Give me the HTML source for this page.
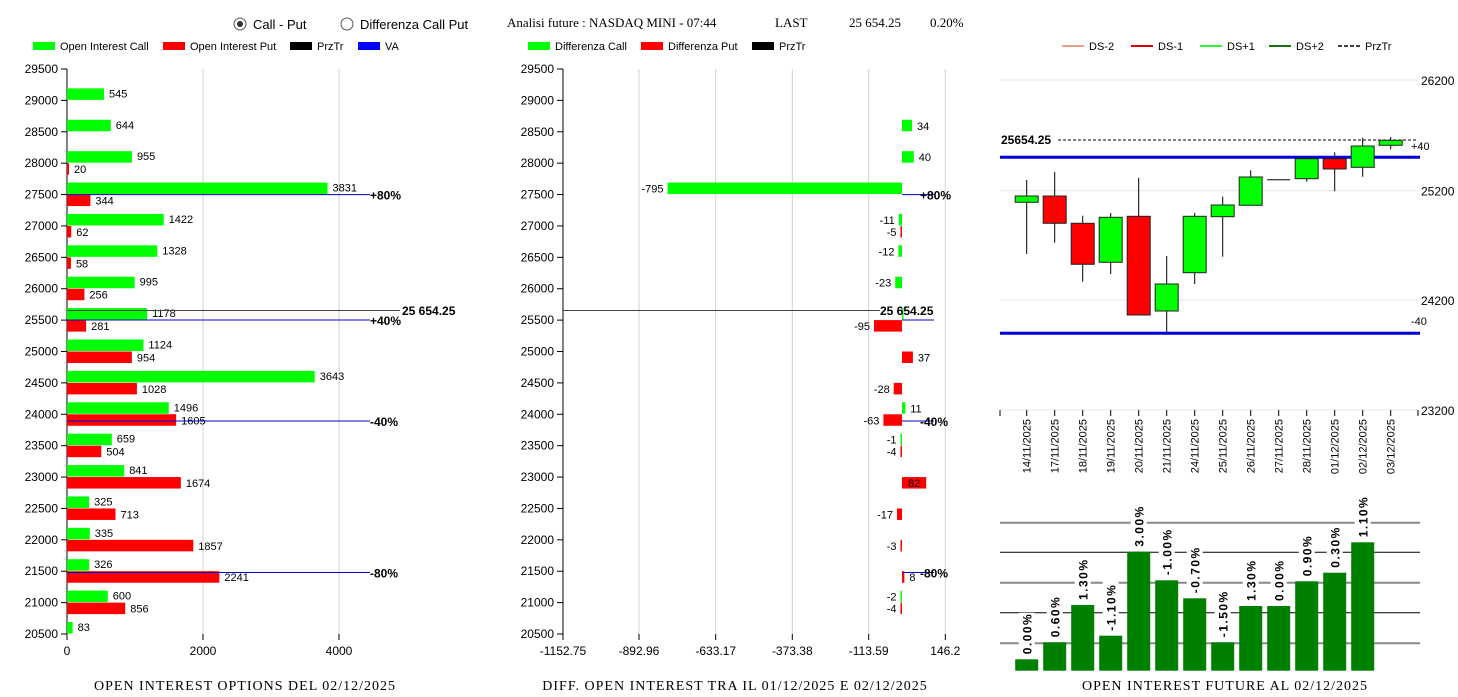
<!DOCTYPE html>
<html><head><meta charset="utf-8">
<style>
body{margin:0;background:#fff;width:1458px;height:697px;overflow:hidden}
svg{display:block}
text{font-family:"Liberation Sans",sans-serif;font-size:11px;fill:#000}
.s{font-family:"Liberation Serif",serif;font-size:13px}
.t{font-family:"Liberation Serif",serif;font-size:14px;letter-spacing:1px}
.b{font-weight:bold;font-size:12px}
</style></head><body>
<svg id="c" width="1458" height="697" xmlns="http://www.w3.org/2000/svg">
<circle cx="240" cy="24" r="6" fill="#fff" stroke="#555"/><circle cx="240" cy="24" r="3" fill="#333"/>
<text x="253" y="29" style="font-size:13px">Call - Put</text>
<circle cx="347" cy="24" r="6" fill="#fff" stroke="#555"/>
<text x="360" y="29" style="font-size:13px">Differenza Call Put</text>
<text class="s" x="507" y="27">Analisi future : NASDAQ MINI - 07:44</text>
<text class="s" x="775" y="27">LAST</text>
<text class="s" x="849" y="27">25 654.25</text>
<text class="s" x="930" y="27">0.20%</text>
<rect x="33" y="42" width="22" height="8" fill="#00ff00"/><text x="60" y="50">Open Interest Call</text>
<rect x="163" y="42" width="22" height="8" fill="#ff0000"/><text x="190" y="50">Open Interest Put</text>
<rect x="290" y="42" width="22" height="8" fill="#000"/><text x="317" y="50">PrzTr</text>
<rect x="358" y="42" width="22" height="8" fill="#0000ff"/><text x="385" y="50">VA</text>
<rect x="528" y="42" width="22" height="8" fill="#00ff00"/><text x="555" y="50">Differenza Call</text>
<rect x="641" y="42" width="22" height="8" fill="#ff0000"/><text x="668" y="50">Differenza Put</text>
<rect x="752" y="42" width="22" height="8" fill="#000"/><text x="779" y="50">PrzTr</text>
<line x1="1062" y1="46" x2="1084" y2="46" stroke="#e8a080" stroke-width="2"/><text x="1089" y="50">DS-2</text>
<line x1="1131" y1="46" x2="1153" y2="46" stroke="#dd0000" stroke-width="2"/><text x="1158" y="50">DS-1</text>
<line x1="1200" y1="46" x2="1222" y2="46" stroke="#33ee33" stroke-width="2"/><text x="1227" y="50">DS+1</text>
<line x1="1269" y1="46" x2="1291" y2="46" stroke="#117711" stroke-width="2"/><text x="1296" y="50">DS+2</text>
<line x1="1338" y1="46" x2="1360" y2="46" stroke="#000" stroke-width="1.5" stroke-dasharray="4,2"/><text x="1365" y="50">PrzTr</text>
<text class="t" x="245" y="690" text-anchor="middle">OPEN INTEREST OPTIONS DEL 02/12/2025</text>
<text class="t" x="735" y="690" text-anchor="middle">DIFF. OPEN INTEREST TRA IL 01/12/2025 E 02/12/2025</text>
<text class="t" x="1225" y="690" text-anchor="middle">OPEN INTEREST FUTURE AL 02/12/2025</text>
</svg>
<script>
var S=document.getElementById('c'),N='http://www.w3.org/2000/svg';
function E(t,a,txt){var e=document.createElementNS(N,t);for(var k in a)e.setAttribute(k,a[k]);if(txt!==undefined)e.textContent=txt;S.appendChild(e);return e;}
function L(x1,y1,x2,y2,c,w,d){var a={x1:x1,y1:y1,x2:x2,y2:y2,stroke:c,'stroke-width':w||1};if(d)a['stroke-dasharray']=d;return E('line',a);}
function T(x,y,s,o){var a={x:x,y:y};for(var k in o)a[k]=o[k];return E('text',a,s);}
function yL(p){return 69+(29500-p)*0.062778;}
[[67,0],[563,1]].forEach(function(ax){
 var X=ax[0];
 for(var p=29500;p>=20500;p-=500){var y=yL(p);L(X-6,y,X,y,'#000');T(X-9,y+4,p,{'text-anchor':'end',style:'font-size:12px'});}
 L(X,69,X,634,'#000');
});
[203,339].forEach(function(x){L(x,69,x,634,'#d0d0d0');});
L(67,634,67,640,'#000');L(203,634,203,640,'#000');L(339,634,339,640,'#000');
T(67,655,'0',{'text-anchor':'middle',style:'font-size:12px'});T(203,655,'2000',{'text-anchor':'middle',style:'font-size:12px'});T(339,655,'4000',{'text-anchor':'middle',style:'font-size:12px'});
var LD=[[29000,545],[28500,644],[28000,955,20],[27500,3831,344],[27000,1422,62],[26500,1328,58],[26000,995,256],[25500,1178,281],[25000,1124,954],[24500,3643,1028],[24000,1496,1605],[23500,659,504],[23000,841,1674],[22500,325,713],[22000,335,1857],[21500,326,2241],[21000,600,856],[20500,83]];
LD.forEach(function(d){var y=yL(d[0]);
 var w=d[1]*0.068;E('rect',{x:67,y:y-12,width:w,height:11.5,fill:'#00ff00'});T(67+w+5,y-3,d[1]);
 if(d[2]!==undefined){w=Math.max(d[2]*0.068,2);E('rect',{x:67,y:y,width:w,height:11.5,fill:'#ff0000'});T(67+w+5,y+10,d[2]);}
});
L(67,310.5,400,310.5,'#444');T(402,315,'25 654.25',{'class':'b'});
[[194.6,'+80%'],[320,'+40%'],[421,'-40%'],[572.5,'-80%']].forEach(function(v){L(67,v[0],370,v[0],'#0000cc');T(370,v[0]+5,v[1],{'class':'b'});});
[639,715.7,792.3,868.7,945.3].forEach(function(x){L(x,69,x,634,'#d0d0d0');});
[[563,'-1152.75'],[639,'-892.96'],[715.7,'-633.17'],[792.3,'-373.38'],[868.7,'-113.59'],[945.3,'146.2']].forEach(function(v){L(v[0],634,v[0],640,'#000');T(v[0],655,v[1],{'text-anchor':'middle',style:'font-size:12px'});});
var Z=902,K=0.2949;
var MD=[[28500,34],[28000,40],[27500,-795],[27000,-11,-5],[26500,-12],[26000,-23],[25500,3,-95],[25000,null,37],[24500,null,-28],[24000,11,-63],[23500,-1,-4],[23000,null,82],[22500,null,-17],[22000,null,-3],[21500,null,8],[21000,-2,-4]];
function mb(v,y,col,lab){var w=Math.max(Math.abs(v)*K,1.5);var x=v<0?Z-w:Z;E('rect',{x:x,y:y,width:w,height:11.5,fill:col});
 if(!lab)return; if(v==82){T(Z+w/2,y+10,'82',{'text-anchor':'middle'});return;}
 if(v<0)T(x-4,y+10,v,{'text-anchor':'end'});else T(x+w+5,y+10,v);}
MD.forEach(function(d){var y=yL(d[0]);
 if(d[1]!==null&&d[1]!==undefined)mb(d[1],y-12,'#00ff00',d[0]!=25500);
 if(d[2]!==undefined)mb(d[2],y,'#ff0000',true);
});
L(563,310.5,880,310.5,'#444');T(880,315,'25 654.25',{'class':'b'});
[[194.6,'+80%'],[320,''],[421,'-40%'],[572.5,'-80%']].forEach(function(v){L(902,v[0],934,v[0],'#0000cc');if(v[1])T(920,v[0]+5,v[1],{'class':'b'});});
function yR(p){return 80+(26200-p)*0.11;}
[[80,'26200'],[190.7,'25200'],[300,'24200'],[410,'23200']].forEach(function(v){L(1000,v[0],1418,v[0],'#e4e4e4');T(1421,v[0]+5,v[1],{style:'font-size:12px'});});
L(1000,157.3,1420,157.3,'#0000dd',3);L(1000,333.3,1420,333.3,'#0000dd',3);
L(1058,140,1418,140,'#000',1,'3,2');T(1001,144,'25654.25',{'class':'b'});
T(1411,150,'+40');T(1411,325,'-40');
var X0=1026.7,DX=28;
var C=[[196,202.3,180,254,'g'],[196,223.3,172,242.7,'r'],[223.3,264.3,215.7,281.7,'r'],[217.3,262.3,213,274,'g'],[216.3,315,177.7,315,'r'],[284,311,256,332.7,'g'],[216.3,272.7,213,284,'g'],[205,216.7,196.7,256.7,'g'],[177,205.3,170.3,205.3,'g'],[179.7,179.7,179.7,179.7,'f'],[158.7,178.7,158.7,181.7,'g'],[158.7,169,152.3,191.3,'r'],[146,167.3,137.7,176.7,'g'],[140.3,145.3,137,149.3,'g']];
var dates=['14/11/2025','17/11/2025','18/11/2025','19/11/2025','20/11/2025','21/11/2025','24/11/2025','25/11/2025','26/11/2025','27/11/2025','28/11/2025','01/12/2025','02/12/2025','03/12/2025'];
C.forEach(function(c,i){var x=X0+i*DX;
 if(c[4]=='f'){L(x-11.5,c[0],x+11.5,c[0],'#000');return;}
 L(x,c[2],x,c[3],'#000');E('rect',{x:x-11.5,y:c[0],width:23,height:c[1]-c[0],fill:c[4]=='g'?'#00ff00':'#ff0000',stroke:'#222','stroke-width':1});
});
L(1000,410,1000,416,'#000');L(1418,410,1418,416,'#000');
dates.forEach(function(d,i){var x=X0+i*DX;L(x,410,x,416,'#000');T(0,0,d,{transform:'translate('+(x+4)+',419) rotate(-90)','text-anchor':'end',style:'font-size:11px'});});
[[522.7,'#888'],[552.3,'#000'],[582.7,'#888'],[612.7,'#000'],[643.3,'#888']].forEach(function(v){L(1000,v[0],1420,v[0],v[1],v[1]=='#888'?2:1);});
var B=[[659.3,'0.00%'],[642.3,'0.60%'],[605,'1.30%'],[635.7,'-1.10%'],[551.7,'3.00%'],[580.3,'-1.00%'],[598.3,'-0.70%'],[642.3,'-1.50%'],[606,'1.30%'],[606,'0.00%'],[581.3,'0.90%'],[572.7,'0.30%'],[542.3,'1.10%']];
B.forEach(function(b,i){var x=X0+i*DX;E('rect',{x:x-11.5,y:b[0],width:23,height:670.7-b[0],fill:'#008000'});
 var len=b[1].length*8.3;E('rect',{x:x-8,y:b[0]-5-len,width:16,height:len+2,fill:'#fff'});
 T(0,0,b[1],{transform:'translate('+(x+5)+','+(b[0]-5)+') rotate(-90)','class':'b',style:'letter-spacing:1.5px;font-size:12px'});});
</script>
</body></html>
